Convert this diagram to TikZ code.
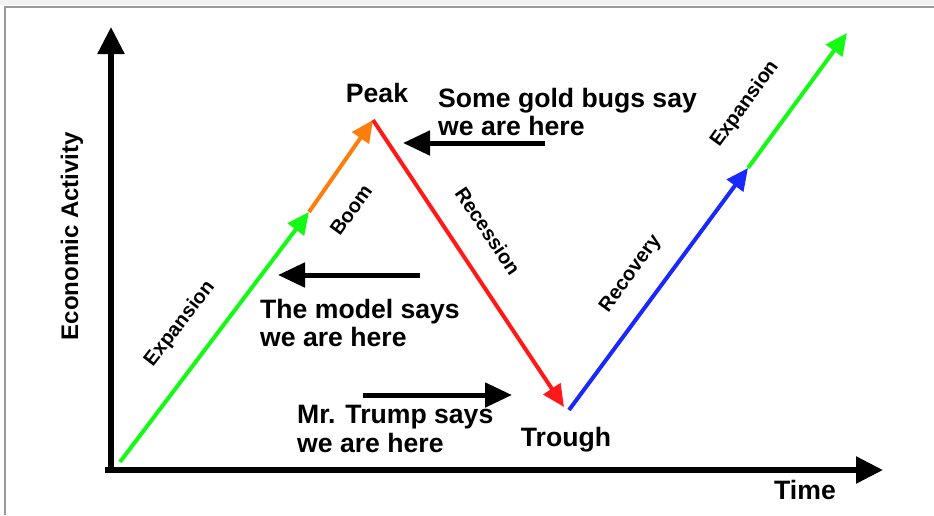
\documentclass[tikz,border=0pt]{standalone}
\usepackage{fontspec}
\setmainfont{Liberation Sans}
\usetikzlibrary{arrows.meta}

\definecolor{expgreen}{RGB}{20,250,20}
\definecolor{boomorange}{RGB}{255,125,10}
\definecolor{recred}{RGB}{255,25,25}
\definecolor{recblue}{RGB}{25,40,255}

\begin{document}
\begin{tikzpicture}[x=1pt, y=-1pt,
    axis/.style={line width=5.5pt, -{Triangle[length=27pt,width=26pt]}},
    phase/.style={line width=4pt, -{Triangle[length=22pt,width=20pt]}},
    pointer/.style={line width=5pt, -{Triangle[length=27pt,width=24pt]}},
    note/.style={font=\fontsize{26.6}{28.5}\selectfont\bfseries, align=left, inner sep=0pt, anchor=north west},
    point/.style={font=\fontsize{26.6}{28.5}\selectfont\bfseries, inner sep=0pt},
    tag/.style={font=\fontsize{20}{22}\selectfont\bfseries, inner sep=0pt}
]
    \useasboundingbox (0,0) rectangle (934,515);

    % frame
    \fill[gray!10] (0,0) rectangle (934,5);
    \draw[gray!80, line width=2pt] (5,515) -- (5,7) -- (934,7);

    % axes
    \coordinate (ybase) at (111,472);
    \coordinate (ytip) at (111,27);
    \coordinate (xbase) at (105,470);
    \coordinate (xtip) at (883,470);
    \draw[axis] (ybase) -- (ytip);
    \draw[axis] (xbase) -- (xtip);

    % cycle
    \coordinate (start) at (120,462);
    \coordinate (boom) at (309,212);
    \coordinate (peak) at (373,120);
    \coordinate (trough) at (564,407);
    \coordinate (low) at (569,410);
    \coordinate (recov) at (748,168);
    \coordinate (top) at (847,33);

    \draw[phase, expgreen] (start) -- (boom);
    \draw[phase, boomorange] (boom) -- (peak);
    \draw[phase, recred] (peak) -- (trough);
    \draw[phase, recblue] (low) -- (recov);
    \draw[phase, expgreen] (recov) -- (top);

    \node[tag, rotate=52] (exp1) at (180,324) {Expansion};
    \node[tag, rotate=54] (boomlbl) at (351,210) {Boom};
    \node[tag, rotate=-56] (reclbl) at (488,231) {Recession};
    \node[tag, rotate=54] (recovlbl) at (631,274) {Recovery};
    \node[tag, rotate=54] (exp2) at (745,104) {Expansion};

    \node[point] (peaklbl) at (377,93) {Peak};
    \node[point] (troughlbl) at (566,440) {Trough};
    \node[point] (timelbl) at (805,490) {Time};
    \node[point, rotate=90, font=\fontsize{24}{26}\selectfont\bfseries] (ylbl) at (72,236) {Economic Activity};

    % where are we
    \node[note] (gold) at (438,88) {Some gold bugs say\\we are here};
    \node[note] (model) at (260,299) {The model says\\we are here};
    \node[note] (trump) at (297,405) {Mr. Trump says\\we are here};

    \coordinate (gold-tail) at (545,143);
    \coordinate (gold-tip) at (403,143);
    \coordinate (model-tail) at (420,275);
    \coordinate (model-tip) at (278,275);
    \coordinate (trump-tail) at (363,395);
    \coordinate (trump-tip) at (512,395);
    \draw[pointer] (gold-tail) -- (gold-tip);
    \draw[pointer] (model-tail) -- (model-tip);
    \draw[pointer] (trump-tail) -- (trump-tip);
\end{tikzpicture}
\end{document}
